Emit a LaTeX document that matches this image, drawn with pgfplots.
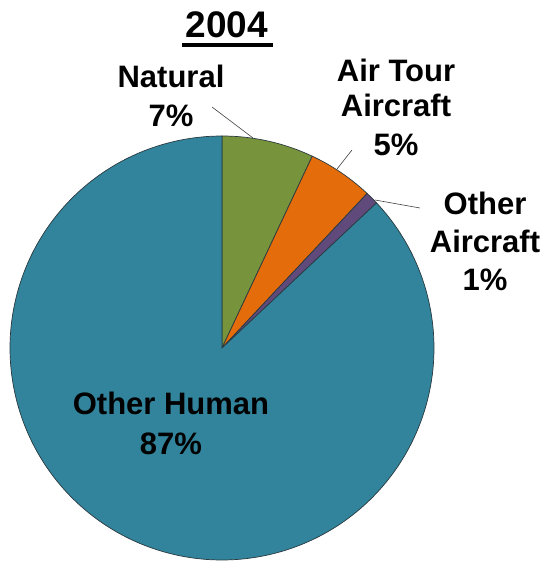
\documentclass[border=0pt]{standalone}
\usepackage{pgfplots}
\pgfplotsset{compat=1.18}
\usepackage{pgfplotstable}
\usepackage{fontspec}
\setmainfont{Liberation Sans}
\definecolor{natgreen}{HTML}{77933C}
\definecolor{tourorange}{HTML}{E46C0A}
\definecolor{acpurple}{HTML}{604A7B}
\definecolor{humteal}{HTML}{31849B}
\definecolor{edgegray}{HTML}{2B3A40}
\pgfplotstableread{
name value
Natural 7
AirTour 5
OtherAircraft 1
OtherHuman 87
}\piedata
\pgfplotstablegetelem{0}{value}\of\piedata \let\vA\pgfplotsretval
\pgfplotstablegetelem{1}{value}\of\piedata \let\vB\pgfplotsretval
\pgfplotstablegetelem{2}{value}\of\piedata \let\vC\pgfplotsretval
\pgfplotstablegetelem{3}{value}\of\piedata \let\vD\pgfplotsretval
\pgfmathsetmacro\angA{90}
\pgfmathsetmacro\angB{\angA-3.6*\vA}
\pgfmathsetmacro\angC{\angB-3.6*\vB}
\pgfmathsetmacro\angD{\angC-3.6*\vC}
\pgfmathsetmacro\angE{\angD-3.6*\vD}
\begin{document}
\begin{tikzpicture}
\useasboundingbox (0,0) rectangle (547pt,565pt);
\begin{axis}[at={(0,0)}, anchor=south west, scale only axis, width=547pt, height=565pt,
  xmin=0, xmax=547, ymin=0, ymax=565, hide axis, clip=false]
\pgfplotsset{every axis plot/.append style={draw=edgegray, line width=0.7pt, samples=120, variable=\t}}
\addplot[fill=natgreen, domain=\angB:\angA] ({222+212*cos(\t)},{217+212*sin(\t)}) -- (axis cs:222,217) -- cycle;
\addplot[fill=tourorange, domain=\angC:\angB] ({222+212*cos(\t)},{217+212*sin(\t)}) -- (axis cs:222,217) -- cycle;
\addplot[fill=acpurple, domain=\angD:\angC] ({222+212*cos(\t)},{217+212*sin(\t)}) -- (axis cs:222,217) -- cycle;
\addplot[fill=humteal, domain=\angE:\angD, samples=300] ({222+212*cos(\t)},{217+212*sin(\t)}) -- (axis cs:222,217) -- cycle;
% leader lines
\addplot[draw=black!75, line width=0.6pt] coordinates {(212,458) (253,427)};
\addplot[draw=black!75, line width=0.6pt] coordinates {(352,415) (337,396)};
\addplot[draw=black!75, line width=0.6pt] coordinates {(375,365) (420,357)};
% labels
\begin{scope}[every node/.style={font=\bfseries\fontsize{31}{37}\selectfont, anchor=base, inner sep=0pt}]
\node at (axis cs:171,477) {Natural};
\node at (axis cs:171,438) {7\%};
\node at (axis cs:396,483) {Air Tour};
\node at (axis cs:396,448) {Aircraft};
\node at (axis cs:396,409) {5\%};
\node at (axis cs:485,350) {Other};
\node at (axis cs:485,312) {Aircraft};
\node at (axis cs:485,274) {1\%};
\node at (axis cs:171,150) {Other Human};
\node at (axis cs:171,110) {87\%};
\node[font=\bfseries\fontsize{37}{40}\selectfont] at (axis cs:227,527) {2004};
\end{scope}
\fill[black] (axis cs:182,518) rectangle (axis cs:273,521.5);
\end{axis}
\end{tikzpicture}
\end{document}
